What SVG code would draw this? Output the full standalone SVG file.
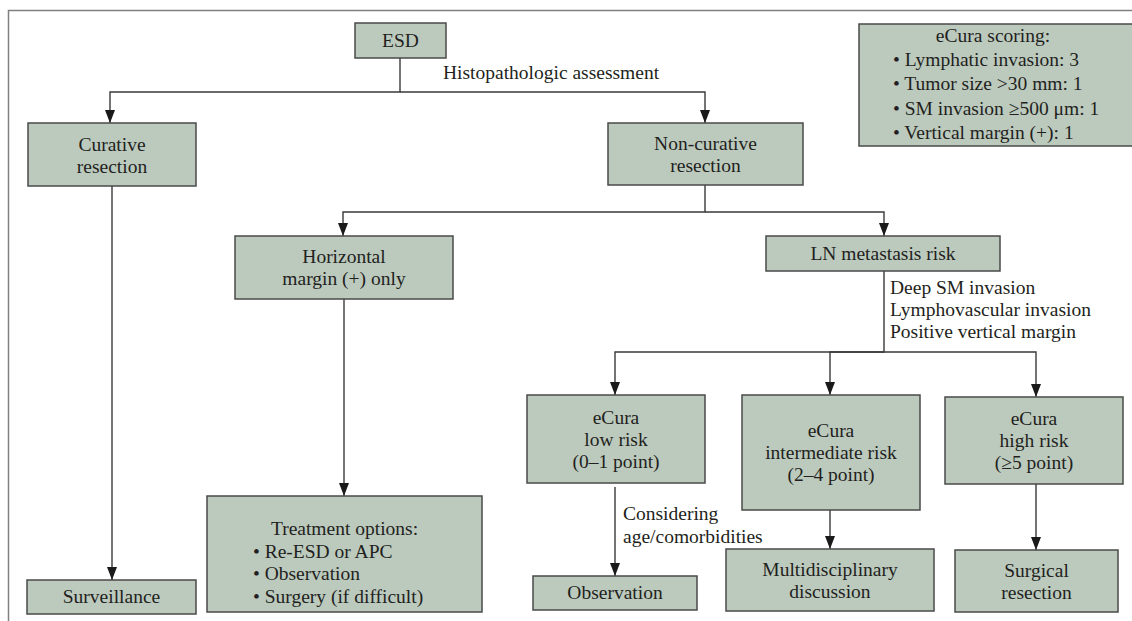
<svg xmlns="http://www.w3.org/2000/svg" width="1132" height="621" viewBox="0 0 1132 621">
<style>
.box{fill:#bccabe;stroke:#4a4a4a;stroke-width:1.5}
.t{font-family:"Liberation Serif","Times New Roman",serif;font-size:19.5px;fill:#231f20}
.c{text-anchor:middle}
.ln{fill:none;stroke:#3a3a3a;stroke-width:1.4}
</style>
<defs>
<marker id="ah" viewBox="0 0 13 10" refX="13" refY="5" markerWidth="13" markerHeight="10" markerUnits="userSpaceOnUse" orient="auto">
<path d="M0,0 L13,5 L0,10 Z" fill="#1a1a1a"/>
</marker>
</defs>
<rect x="0" y="0" width="1132" height="621" fill="#ffffff"/>
<rect x="8.5" y="10.5" width="1140" height="630" fill="none" stroke="#808080" stroke-width="1.5"/>

<g id="connectors">
<path class="ln" d="M400,58 V92 H110 V123" marker-end="url(#ah)"/>
<path class="ln" d="M400,92 H705 V123" marker-end="url(#ah)"/>
<path class="ln" d="M705,185 V212 H343 V236" marker-end="url(#ah)"/>
<path class="ln" d="M705,212 H884 V236" marker-end="url(#ah)"/>
<path class="ln" d="M112,186 V580" marker-end="url(#ah)"/>
<path class="ln" d="M344,299 V496" marker-end="url(#ah)"/>
<path class="ln" d="M884,271 V352 H615 V395" marker-end="url(#ah)"/>
<path class="ln" d="M884,352 H830 V395" marker-end="url(#ah)"/>
<path class="ln" d="M884,352 H1036 V397" marker-end="url(#ah)"/>
<path class="ln" d="M615,487 V576" marker-end="url(#ah)"/>
<path class="ln" d="M830,510 V549" marker-end="url(#ah)"/>
<path class="ln" d="M1036,484 V550" marker-end="url(#ah)"/>
<text class="t" x="443" y="79">Histopathologic assessment</text>
<text class="t" x="890" y="294">Deep SM invasion</text>
<text class="t" x="890" y="316">Lymphovascular invasion</text>
<text class="t" x="890" y="338">Positive vertical margin</text>
<text class="t" x="623" y="520">Considering</text>
<text class="t" x="623" y="543">age/comorbidities</text>
</g>

<g id="esd">
<rect class="box" x="355" y="23" width="91" height="35"/>
<text class="t c" x="400.5" y="47">ESD</text>
</g>

<g id="ecura-scoring">
<rect class="box" x="859" y="24" width="290" height="122"/>
<text class="t c" x="993" y="42">eCura scoring:</text>
<text class="t" x="893" y="66">• Lymphatic invasion: 3</text>
<text class="t" x="893" y="90">• Tumor size &gt;30 mm: 1</text>
<text class="t" x="893" y="115">• SM invasion ≥500 μm: 1</text>
<text class="t" x="893" y="139">• Vertical margin (+): 1</text>
</g>

<g id="curative">
<rect class="box" x="28" y="123" width="168" height="63"/>
<text class="t c" x="112" y="151">Curative</text>
<text class="t c" x="112" y="173">resection</text>
</g>

<g id="noncurative">
<rect class="box" x="608" y="123" width="195" height="62"/>
<text class="t c" x="705.5" y="150">Non-curative</text>
<text class="t c" x="705.5" y="172">resection</text>
</g>

<g id="horizontal">
<rect class="box" x="235" y="236" width="218" height="63"/>
<text class="t c" x="344" y="263">Horizontal</text>
<text class="t c" x="344" y="285">margin (+) only</text>
</g>

<g id="ln-risk">
<rect class="box" x="766" y="236" width="234" height="35"/>
<text class="t c" x="883" y="260">LN metastasis risk</text>
</g>

<g id="low-risk">
<rect class="box" x="527" y="395" width="178" height="88"/>
<text class="t c" x="616" y="424">eCura</text>
<text class="t c" x="616" y="446">low risk</text>
<text class="t c" x="616" y="468">(0–1 point)</text>
</g>

<g id="intermediate-risk">
<rect class="box" x="742" y="395" width="178" height="115"/>
<text class="t c" x="831" y="437">eCura</text>
<text class="t c" x="831" y="459">intermediate risk</text>
<text class="t c" x="831" y="481">(2–4 point)</text>
</g>

<g id="high-risk">
<rect class="box" x="945" y="397" width="178" height="87"/>
<text class="t c" x="1034" y="425">eCura</text>
<text class="t c" x="1034" y="447">high risk</text>
<text class="t c" x="1034" y="469">(≥5 point)</text>
</g>

<g id="surveillance">
<rect class="box" x="27" y="580" width="169" height="34"/>
<text class="t c" x="111.5" y="603">Surveillance</text>
</g>

<g id="treatment">
<rect class="box" x="207" y="496" width="275" height="116"/>
<text class="t c" x="344.5" y="535">Treatment options:</text>
<text class="t" x="253" y="557.5">• Re-ESD or APC</text>
<text class="t" x="253" y="580">• Observation</text>
<text class="t" x="253" y="602.5">• Surgery (if difficult)</text>
</g>

<g id="observation">
<rect class="box" x="533" y="576" width="164" height="34"/>
<text class="t c" x="615" y="599">Observation</text>
</g>

<g id="multidisciplinary">
<rect class="box" x="726" y="549" width="208" height="62"/>
<text class="t c" x="830" y="576">Multidisciplinary</text>
<text class="t c" x="830" y="598">discussion</text>
</g>

<g id="surgical">
<rect class="box" x="955" y="550" width="163" height="62"/>
<text class="t c" x="1036.5" y="577">Surgical</text>
<text class="t c" x="1036.5" y="599">resection</text>
</g>
</svg>
